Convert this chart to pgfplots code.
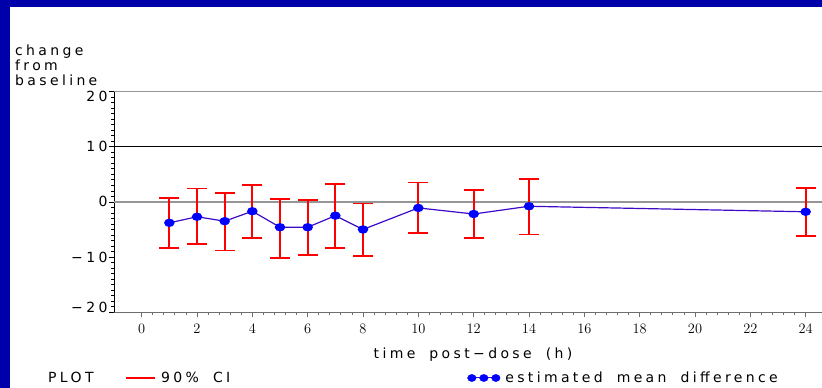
\documentclass[border=0pt]{standalone}
\usepackage{fontspec}
\setmainfont{DejaVu Sans}[LetterSpace=24, WordSpace=1.8]
\usepackage{pgfplots}
\usepackage{pgfplotstable}
\pgfplotsset{compat=1.18}
\definecolor{frameblue}{RGB}{0,0,170}
\definecolor{lineblue}{RGB}{60,10,200}
\definecolor{mkblue}{RGB}{0,0,255}
\definecolor{cired}{RGB}{255,0,0}
\definecolor{zerogray}{RGB}{150,150,150}
\definecolor{axgray}{RGB}{110,110,110}
\pgfplotstableread{
x m lo hi
1 -3.8 -8.4 0.7
2 -2.7 -7.7 2.4
3 -3.5 -8.8 1.6
4 -1.7 -6.6 3.1
5 -4.6 -10.1 0.5
6 -4.6 -9.6 0.4
7 -2.5 -8.4 3.3
8 -5.0 -9.8 -0.3
10 -1.1 -5.6 3.5
12 -2.2 -6.6 2.1
14 -0.8 -5.9 4.2
24 -1.8 -6.2 2.5
}\data
\pgfplotstableread{
x y
1 -8.4
1 0.7
nan nan
2 -7.7
2 2.4
nan nan
3 -8.8
3 1.6
nan nan
4 -6.6
4 3.1
nan nan
5 -10.1
5 0.5
nan nan
6 -9.6
6 0.4
nan nan
7 -8.4
7 3.3
nan nan
8 -9.8
8 -0.3
nan nan
10 -5.6
10 3.5
nan nan
12 -6.6
12 2.1
nan nan
14 -5.9
14 4.2
nan nan
24 -6.2
24 2.5
}\cibars
\begin{document}
\begin{tikzpicture}[x=1pt,y=1pt,font=\fontsize{14}{16}\selectfont]
\useasboundingbox (0,0) rectangle (822,388);
\fill[white] (0,0) rectangle (822,388);
\fill[frameblue] (0,381) rectangle (822,388);
\fill[frameblue] (0,0) rectangle (10,388);
\node[anchor=base west,inner sep=0pt] at (15,332) {change};
\node[anchor=base west,inner sep=0pt] at (15,317) {from};
\node[anchor=base west,inner sep=0pt] at (15,302) {baseline};
\node[anchor=base west,inner sep=0pt] at (48,5.7) {PLOT};
\begin{axis}[
  at={(114pt,75.7pt)}, anchor=south west,
  scale only axis, width=708pt, height=220.9pt,
  xmin=-1, xmax=24.59, ymin=-20, ymax=20,
  axis x line*=bottom, axis y line*=left,
  x axis line style={draw=axgray, line width=1pt},
  y axis line style={draw=black, line width=0.8pt},
  xtick={0,2,...,24}, minor x tick num=4,
  ytick={-20,-10,0,10,20},
  yticklabels={\raisebox{4.5pt}{−20},−10,0,10,\raisebox{-5pt}{20}},
  minor y tick num=9,
  tick align=outside,
  x tick style={draw=axgray, line width=0.8pt},
  y tick style={draw=black, line width=0.6pt},
  major tick length=5pt, minor tick length=3pt,
  every tick label/.append style={font=\fontsize{14}{16}\selectfont},
  xticklabel style={yshift=-3pt},
  yticklabel style={anchor=base east, yshift=-5pt, xshift=2pt},
  xlabel={time post−dose (h)},
  xlabel style={at={(axis description cs:0.5,0)}, anchor=base, xshift=5pt, yshift=-46pt, font=\fontsize{14}{16}\selectfont},
  legend columns=2,
  legend style={draw=none, fill=none, inner sep=0pt, at={(0.0155,-0.3348)}, anchor=south west,
    font=\fontsize{14}{16}\selectfont, cells={anchor=west},
    /tikz/every odd column/.append style={column sep=3pt},
    /tikz/every even column/.append style={column sep=235pt}},
]
\addplot[zerogray, line width=1.5pt, forget plot] coordinates {(-1,20) (25,20)};
\addplot[black, line width=0.8pt, forget plot] coordinates {(-1,10) (25,10)};
\addplot[zerogray, line width=2pt, forget plot] coordinates {(-1,0) (25,0)};
\addplot[color=cired, line width=2pt, mark=none, unbounded coords=jump, forget plot]
  table[x=x, y=y] {\cibars};
\addplot[color=cired, only marks, mark=-, mark size=10pt, forget plot,
  mark options={color=cired, line width=1.8pt}]
  table[x=x, y=hi] {\data};
\addplot[color=cired, only marks, mark=-, mark size=10pt, forget plot,
  mark options={color=cired, line width=1.8pt}]
  table[x=x, y=lo] {\data};
\addplot[lineblue, line width=1.2pt, mark=*, mark size=4.2pt, forget plot,
  mark options={draw=mkblue, fill=mkblue, xscale=1.1, yscale=0.85}]
  table[x=x, y=m] {\data};
\addlegendimage{legend image code/.code={\draw[color=cired, line width=2pt] (0pt,0pt) -- (29pt,0pt);}}
\addlegendentry{90\% CI}
\addlegendimage{legend image code/.code={\draw[lineblue, line width=1pt] (0pt,0pt) -- (32pt,0pt);
  \fill[mkblue] (4pt,0pt) ellipse (4.3pt and 3.6pt);
  \fill[mkblue] (16pt,0pt) ellipse (4.3pt and 3.6pt);
  \fill[mkblue] (28pt,0pt) ellipse (4.3pt and 3.6pt);}}
\addlegendentry{estimated mean difference}
\end{axis}
\end{tikzpicture}
\end{document}
